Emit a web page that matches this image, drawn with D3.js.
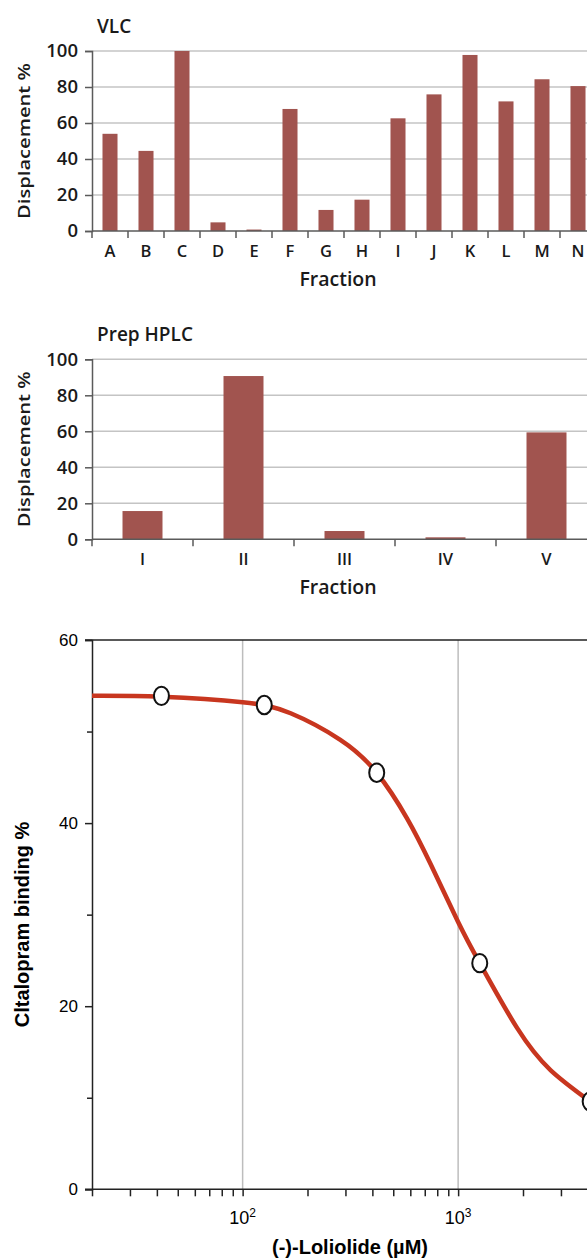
<!DOCTYPE html>
<html>
<head>
<meta charset="utf-8">
<script src="https://cdn.jsdelivr.net/npm/d3@7"></script>
<style>
  body { margin: 0; background: #fff; }
  svg { display: block; }
  .bar-text { font-family: "Open Sans", sans-serif; font-weight: 600; fill: #1a1a1a; }
  .fit-text { font-family: "Liberation Sans", Arial, sans-serif; fill: #000; }
</style>
</head>
<body>
<script>
'use strict';

var width = 587,
    height = 1258;

// VLC fractions
var vlcFractions = ['A','B','C','D','E','F','G','H','I','J','K','L','M','N'];
var vlcDisplacement = [54, 44.5, 100, 4.8, 0.8, 67.8, 11.7, 17.4, 62.6, 75.9, 97.8, 72, 84.3, 80.5];

// Prep HPLC fractions
var hplcFractions = ['I','II','III','IV','V'];
var hplcDisplacement = [15.7, 90.7, 4.6, 1.1, 59.4];

var displacementTicks = [0, 20, 40, 60, 80, 100];

// (-)-Loliolide dose response
var doseConc = [42, 126, 419, 1260, 4100];
var doseBinding = [53.9, 52.9, 45.5, 24.7, 9.6];
// fitted curve
var fitConc = [20, 42, 100, 167, 284, 419, 580, 746, 1000, 1260, 1880, 2690, 4100];
var fitBinding = [53.9, 53.8, 53.2, 52.0, 49.1, 45.5, 40.5, 35.5, 29.2, 24.7, 17.6, 13.0, 9.6];

var bindingMajor = [0, 20, 40, 60];
var bindingMinor = [10, 30, 50];
var concLabels = [100, 1000];

var barColor = '#a1544f',
    gridColor = '#c4c4c4',
    axisColor = '#5a5a5a';

var svg = d3.select('body').append('svg')
  .attr('width', width)
  .attr('height', height);

// ---------- bar panels ----------
function barPanel(opts) {
  var g = svg.append('g');
  var y = d3.scaleLinear().domain([0, 100]).range([opts.bottom, opts.top]);
  var x = d3.scaleBand()
    .domain(opts.cats)
    .range([opts.left, opts.left + opts.step * opts.cats.length])
    .paddingInner(opts.pad)
    .paddingOuter(opts.pad / 2);

  // gridlines
  g.selectAll('line.grid')
    .data(displacementTicks.slice(1))
    .enter().append('line')
    .attr('x1', opts.left).attr('x2', width)
    .attr('y1', y).attr('y2', y)
    .attr('stroke', gridColor)
    .attr('stroke-width', 1.5);

  // bars
  g.selectAll('rect')
    .data(opts.values)
    .enter().append('rect')
    .attr('x', function(d, i) { return x(opts.cats[i]); })
    .attr('width', x.bandwidth())
    .attr('y', function(d) { return y(d); })
    .attr('height', function(d) { return y(0) - y(d); })
    .attr('fill', barColor);

  // y axis
  var yAxis = g.append('g')
    .attr('transform', 'translate(' + opts.left + ',0)')
    .call(d3.axisLeft(y).tickValues(displacementTicks).tickSize(7).tickPadding(7));
  yAxis.select('.domain').attr('stroke', axisColor).attr('stroke-width', 1.5);
  yAxis.selectAll('.tick line').attr('stroke', axisColor).attr('stroke-width', 1.5);
  yAxis.selectAll('.tick text')
    .attr('class', 'bar-text')
    .style('font-size', '18.5px')
    .attr('fill', null);

  // x baseline + ticks at band edges
  g.append('line')
    .attr('x1', opts.left).attr('x2', width)
    .attr('y1', y(0)).attr('y2', y(0))
    .attr('stroke', axisColor).attr('stroke-width', 1.5);

  var edges = d3.range(opts.cats.length + 1).map(function(i) {
    return x(opts.cats[0]) - x.step() * opts.pad / 2 + i * x.step();
  });
  g.selectAll('line.edge')
    .data(edges)
    .enter().append('line')
    .attr('x1', function(d) { return d; }).attr('x2', function(d) { return d; })
    .attr('y1', y(0)).attr('y2', y(0) + 7)
    .attr('stroke', axisColor).attr('stroke-width', 1.5);

  g.selectAll('text.cat')
    .data(opts.cats)
    .enter().append('text')
    .attr('class', 'bar-text')
    .attr('x', function(d) { return x(d) + x.bandwidth() / 2; })
    .attr('y', y(0) + 26)
    .attr('text-anchor', 'middle')
    .style('font-size', '16.5px')
    .text(function(d) { return d; });

  g.append('text')
    .attr('class', 'bar-text')
    .attr('x', 97).attr('y', opts.top - 18)
    .style('font-size', '19px')
    .text(opts.title);

  g.append('text')
    .attr('class', 'bar-text')
    .attr('x', 338).attr('y', y(0) + 55)
    .attr('text-anchor', 'middle')
    .style('font-size', '19.5px')
    .text('Fraction');

  g.append('text')
    .attr('class', 'bar-text')
    .attr('transform', 'translate(30,' + (opts.top + opts.bottom) / 2 + ') rotate(-90)')
    .attr('text-anchor', 'middle')
    .attr('textLength', 156)
    .attr('lengthAdjust', 'spacingAndGlyphs')
    .style('font-size', '17px')
    .text('Displacement %');
}

barPanel({ title: 'VLC', cats: vlcFractions, values: vlcDisplacement,
  left: 92, step: 36, pad: 0.583, top: 51, bottom: 231 });
barPanel({ title: 'Prep HPLC', cats: hplcFractions, values: hplcDisplacement,
  left: 92, step: 101, pad: 0.604, top: 359.3, bottom: 539.3 });

// ---------- dose response panel ----------
var decade = 215.5;
var x3 = d3.scaleLog()
  .domain([20, 10000])
  .range([92, 92 + Math.log10(10000 / 20) * decade]);
var y3 = d3.scaleLinear().domain([0, 60]).range([1189.3, 640]);

var g3 = svg.append('g');

// vertical gridlines
g3.selectAll('line.vgrid')
  .data(concLabels)
  .enter().append('line')
  .attr('x1', x3).attr('x2', x3)
  .attr('y1', y3(60)).attr('y2', y3(0))
  .attr('stroke', '#bdbdbd').attr('stroke-width', 1.5);

// top frame
g3.append('line')
  .attr('x1', 85).attr('x2', width)
  .attr('y1', y3(60)).attr('y2', y3(60))
  .attr('stroke', '#222').attr('stroke-width', 1.5);

// y axis
var yAx3 = g3.append('g')
  .attr('transform', 'translate(92,0)')
  .call(d3.axisLeft(y3).tickValues(bindingMajor).tickSize(7).tickPadding(7));
yAx3.select('.domain').attr('stroke', '#222').attr('stroke-width', 1.5);
yAx3.selectAll('.tick line').attr('stroke', '#222').attr('stroke-width', 1.5);
yAx3.selectAll('.tick text').attr('class', 'fit-text').style('font-size', '17px').attr('fill', null);

g3.append('g')
  .attr('transform', 'translate(92,0)')
  .call(d3.axisLeft(y3).tickValues(bindingMinor).tickSize(5).tickFormat(''))
  .call(function(a) {
    a.select('.domain').remove();
    a.selectAll('.tick line').attr('stroke', '#222').attr('stroke-width', 1.5);
  });

// x axis (log)
var minorConc = x3.ticks().filter(function(d) { return d >= 20; });
var xAx3 = g3.append('g')
  .attr('transform', 'translate(0,' + y3(0) + ')')
  .call(d3.axisBottom(x3).tickValues(minorConc).tickSize(7).tickFormat(''));
xAx3.select('.domain').remove();
xAx3.selectAll('.tick line').attr('stroke', '#222').attr('stroke-width', 1.5);
g3.append('line')
  .attr('x1', 85).attr('x2', width)
  .attr('y1', y3(0)).attr('y2', y3(0))
  .attr('stroke', '#222').attr('stroke-width', 1.5);

var xl = g3.selectAll('text.xlab')
  .data(concLabels)
  .enter().append('text')
  .attr('class', 'fit-text')
  .attr('x', x3)
  .attr('y', y3(0) + 35)
  .attr('text-anchor', 'middle')
  .style('font-size', '18px');
xl.append('tspan').text('10');
xl.append('tspan')
  .attr('dy', -7)
  .style('font-size', '12px')
  .text(function(d) { return Math.round(Math.log10(d)); });

g3.append('text')
  .attr('class', 'fit-text')
  .attr('x', 350).attr('y', 1254)
  .attr('text-anchor', 'middle')
  .style('font-size', '20px')
  .style('font-weight', 'bold')
  .text('(-)-Loliolide (\u00b5M)');

g3.append('text')
  .attr('class', 'fit-text')
  .attr('transform', 'translate(29,' + 924.5 + ') rotate(-90)')
  .attr('text-anchor', 'middle')
  .style('font-size', '20px')
  .style('font-weight', 'bold')
  .text('Cltalopram binding %');

// fitted curve
var line = d3.line()
  .x(function(d, i) { return x3(fitConc[i]); })
  .y(function(d) { return y3(d); })
  .curve(d3.curveNatural);

g3.append('path')
  .datum(fitBinding)
  .attr('d', line)
  .attr('fill', 'none')
  .attr('stroke', '#c8361f')
  .attr('stroke-width', 4.5);

// measured points
g3.selectAll('ellipse')
  .data(doseBinding)
  .enter().append('ellipse')
  .attr('cx', function(d, i) { return x3(doseConc[i]); })
  .attr('cy', function(d) { return y3(d); })
  .attr('rx', 7.5)
  .attr('ry', 9.2)
  .attr('fill', '#fff')
  .attr('stroke', '#111')
  .attr('stroke-width', 2);
</script>
</body>
</html>
